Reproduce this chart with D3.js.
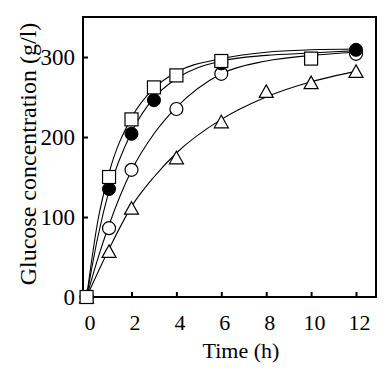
<!DOCTYPE html>
<html>
<head>
<meta charset="utf-8">
<script src="https://cdn.jsdelivr.net/npm/d3@7"></script>
<style>
  body { margin: 0; background: #fff; }
</style>
</head>
<body>
<div id="container"></div>
<script>
/* CONSTANTS AND GLOBALS */
const width = 387, height = 378,
  margin = {top: 17, right: 11, bottom: 81, left: 83};
const serif = "'Liberation Serif', 'Times New Roman', serif";

// tick labels
const xTicks = [0, 2, 4, 6, 8, 10, 12];
const yTicks = [0, 100, 200, 300];

// measured points [time (h), glucose (g/l)]
const squares  = [[0, 0], [1, 150], [2, 222], [3, 262], [4, 277], [6, 295], [10, 298]];
const filled   = [[0, 0], [1, 135], [2, 204], [3, 246], [6, 292], [12, 309]];
const open     = [[0, 0], [1, 86], [2, 159], [4, 235], [6, 279], [12, 304]];
const triangles = [[0, 0], [1, 57], [2, 111], [4, 174], [6, 219], [8, 257], [10, 268], [12, 282]];

// fitted curves
const squareFit   = [[0, 0], [0.5, 95], [1, 155], [2, 224], [3, 261], [4, 281], [6, 298], [8, 306], [10, 309], [12, 310]];
const filledFit   = [[0, 0], [0.5, 75], [1, 133], [2, 206], [3, 249], [4, 273], [6, 295], [8, 302], [10, 305], [12, 308]];
const openFit     = [[0, 0], [0.5, 48], [1, 90], [2, 158], [3, 204], [4, 237], [6, 279], [8, 295], [10, 302], [12, 306]];
const triangleFit = [[0, 0], [1, 60], [2, 113], [3, 150], [4, 180], [6, 222], [8, 250], [10, 269], [12, 282]];

const svg = d3.select("#container").append("svg")
  .attr("width", width)
  .attr("height", height);

// SCALES
const xScale = d3.scaleLinear()
  .domain([-0.16, 12.89])
  .range([margin.left, width - margin.right]);

const yScale = d3.scaleLinear()
  .domain([0, 350])
  .range([height - margin.bottom, margin.top]);

// AXES (inward ticks)
const xAxis = d3.axisBottom(xScale).tickValues(xTicks).tickSize(-5).tickPadding(17);
const yAxis = d3.axisLeft(yScale).tickValues(yTicks).tickSize(-5).tickPadding(8);

const xg = svg.append("g")
  .attr("transform", `translate(0,${height - margin.bottom})`)
  .call(xAxis)
  .attr("font-family", serif)
  .attr("font-size", 22);
xg.select(".domain").remove();
xg.selectAll("line").attr("stroke-width", 2);
xg.selectAll("text").attr("dx", 3);

const yg = svg.append("g")
  .attr("transform", `translate(${margin.left},0)`)
  .call(yAxis)
  .attr("font-family", serif)
  .attr("font-size", 23);
yg.select(".domain").remove();
yg.selectAll("line").attr("stroke-width", 2);

// frame
svg.append("rect")
  .attr("x", margin.left)
  .attr("y", margin.top)
  .attr("width", width - margin.left - margin.right)
  .attr("height", height - margin.top - margin.bottom)
  .attr("fill", "none")
  .attr("stroke", "#000")
  .attr("stroke-width", 2);

// axis titles
svg.append("text")
  .attr("x", 241)
  .attr("y", 358)
  .attr("text-anchor", "middle")
  .attr("font-family", serif)
  .attr("font-size", 22)
  .text("Time (h)");

svg.append("text")
  .attr("transform", "translate(36,154) rotate(-90)")
  .attr("text-anchor", "middle")
  .attr("font-family", serif)
  .attr("font-size", 24)
  .text("Glucose concentration (g/l)");

// CURVES
const lineGen = d3.line()
  .x(d => xScale(d[0]))
  .y(d => yScale(d[1]))
  .curve(d3.curveMonotoneX);

svg.selectAll(".fit")
  .data([triangleFit, openFit, filledFit, squareFit])
  .join("path")
  .attr("class", "fit")
  .attr("fill", "none")
  .attr("stroke", "#000")
  .attr("stroke-width", 1.1)
  .attr("d", d => lineGen(d));

// MARKERS
svg.selectAll(".tri")
  .data(triangles)
  .join("path")
  .attr("class", "tri")
  .attr("transform", d => `translate(${xScale(d[0])},${yScale(d[1])})`)
  .attr("d", "M0,-6.5L7,6L-7,6Z")
  .attr("fill", "#fff")
  .attr("stroke", "#000")
  .attr("stroke-width", 1.2);

svg.selectAll(".open")
  .data(open)
  .join("circle")
  .attr("class", "open")
  .attr("cx", d => xScale(d[0]))
  .attr("cy", d => yScale(d[1]))
  .attr("r", 6.5)
  .attr("fill", "#fff")
  .attr("stroke", "#000")
  .attr("stroke-width", 1.2);

svg.selectAll(".filled")
  .data(filled)
  .join("circle")
  .attr("class", "filled")
  .attr("cx", d => xScale(d[0]))
  .attr("cy", d => yScale(d[1]))
  .attr("r", 6.5)
  .attr("fill", "#000")
  .attr("stroke", "#000")
  .attr("stroke-width", 1);

svg.selectAll(".sq")
  .data(squares)
  .join("rect")
  .attr("class", "sq")
  .attr("x", d => xScale(d[0]) - 6.5)
  .attr("y", d => yScale(d[1]) - 6.5)
  .attr("width", 13)
  .attr("height", 13)
  .attr("fill", "#fff")
  .attr("stroke", "#000")
  .attr("stroke-width", 1.2);
</script>
</body>
</html>
